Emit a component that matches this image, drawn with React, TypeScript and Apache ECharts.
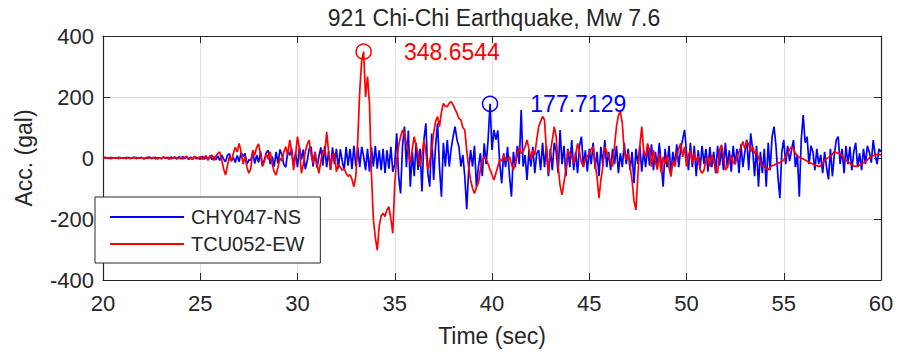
import React, { useEffect, useRef } from "react";
import * as echarts from "echarts";

// ---- data -----------------------------------------------------------------
const TITLE = "921 Chi-Chi Earthquake, Mw 7.6";
const X_NAME = "Time (sec)";
const Y_NAME = "Acc. (gal)";
const SERIES_NAMES = ["CHY047-NS", "TCU052-EW"];
const START_TIME = 20; // sec
const TIME_STEP = 0.1; // sec
const X_MIN = 20, X_MAX = 60, X_STEP = 5;
const Y_MIN = -400, Y_MAX = 400, Y_STEP = 200;

// CHY047-NS (blue), samples every 0.1 s from 20 s to 60 s
const CHY047_NS = [
  0, 2, -1, 1, -2, 0, 1, -1, 2, 0, // 20
  -1, 1, -2, 2, 0, -1, 3, -2, 1, 0, // 21
  2, -3, 1, -1, 3, -2, 0, 2, -3, 1, // 22
  -2, 3, -1, 2, -4, 3, -1, 1, -3, 4, // 23
  -3, 5, -2, 4, -5, 3, -4, 6, -3, 2, // 24
  -5, 6, -4, 3, -7, 8, -5, 4, -6, 7, // 25
  -8, 10, -4, -12, 9, 14, -10, 2, -15, 8, // 26
  -12, 18, 5, 15, -20, -6, -8, 20, -18, 10, // 27
  -15, 22, -25, -5, 18, 25, -20, 5, -28, 20, // 28
  -18, 28, 10, -22, -30, 25, 8, 30, -25, 18, // 29
  -30, 35, -5, 28, -37, -10, 30, 37, -28, 20, // 30
  -32, 5, 35, -25, 40, -30, 22, -38, 35, -20, // 31
  30, -35, 28, -10, -40, 37, -25, 30, -37, 40, // 32
  -28, 35, -30, 37, 5, -40, 30, -45, 35, -28, // 33
  40, -35, 25, -40, 30, -50, 25, -35, 37, -45, // 34
  -20, 81, -60, -116, 40, 103, -30, 90, -94, 20, // 35
  -60, 50, -39, 30, -110, 60, 114, -50, -94, 80, // 36
  -72, 40, 114, -30, -127, 50, -28, 59, -28, 30, // 37
  70, 103, 60, 37, -28, 10, -60, -168, -40, 26, // 38
  -28, 40, -94, -30, 15, -60, 48, -20, 60, 177.7129, // 39
  26, 92, 60, 90, -20, -83, 15, -30, 37, -60, // 40
  -127, 20, -30, 40, -20, 157, -28, 10, -72, 26, // 41
  -28, 37, -50, 15, 26, -40, 50, -30, 40, -60, // 42
  30, -40, 50, 20, -50, 92, -20, 40, -60, 30, // 43
  -30, 59, -40, 20, -50, 40, 70, -30, 25, -45, // 44
  30, -20, 50, -35, 20, -60, 37, -25, 59, -30, // 45
  20, -40, 30, -20, 40, -50, 15, -30, 50, -20, // 46
  30, -40, 20, -83, 30, -20, 40, -45, 25, -30, // 47
  37, -25, 45, -40, 20, -30, 50, -20, -94, 30, // 48
  -30, 40, -50, 20, -25, 45, -30, 30, 60, 92, // 49
  20, -40, 50, -30, 40, -60, 25, -35, 40, -20, // 50
  30, -45, 37, -30, 20, -50, 40, -25, 30, -40, // 51
  50, -30, 25, -45, 40, -20, 30, -50, 45, -30, // 52
  20, 60, -40, 81, 30, -60, 40, -94, 20, -50, // 53
  30, -94, 50, -40, 70, 103, 40, -60, -132, 20, // 54
  59, -20, 40, -10, 26, 59, -30, 10, -127, 60, // 55
  141, 50, 70, -20, 40, 20, -40, 30, -20, 10, // 56
  -50, 20, -30, -70, 30, -60, 10, 59, 70, -20, // 57
  30, -50, 40, -20, 37, -40, 20, 50, -30, 15, // 58
  -40, 30, -20, 40, 20, -15, 59, 10, -20, 30, // 59
  20, // 60
];

// TCU052-EW (red), samples every 0.1 s from 20 s to 60 s
const TCU052_EW = [
  0, 1, -1, 0, 2, -1, 0, 1, -2, 1, // 20
  0, -1, 2, 0, -2, 1, 0, 2, -1, 0, // 21
  1, -2, 0, 3, -1, 0, 2, -3, 1, 0, // 22
  -2, 3, 0, -1, 2, -3, 1, 4, -2, 0, // 23
  3, -4, 2, 6, -3, 1, -5, 4, 2, -3, // 24
  5, -4, 3, 8, -6, 4, 10, -8, 6, 15, // 25
  20, -5, -35, -56, -25, 5, -10, 15, 35, 20, // 26
  48, 20, -20, 5, -30, -50, -35, 26, 10, 35, // 27
  46, 10, -28, -10, 15, -5, 20, -20, -45, -56, // 28
  -30, 0, -10, 20, 37, 10, 59, 20, -39, 10, // 29
  70, 30, -50, -20, 20, 45, 59, 10, -17, 20, // 30
  -20, -50, -10, 26, 10, 86, 20, -39, 10, 15, // 31
  -45, -20, -30, -40, -35, -50, -60, -55, -70, -94, // 32
  -60, 60, 220, 320, 348.6544, 200, 267, 180, -50, -200, // 33
  -260, -302, -225, -190, -181, -192, -170, -160, -200, -247, // 34
  -83, -6, 40, 70, 92, 80, 48, 20, -17, 30, // 35
  70, 40, 15, -28, 10, 59, 20, -39, -10, 26, // 36
  81, 120, 136, 103, 150, 179, 170, 168, 180, 185, // 37
  174, 160, 146, 130, 125, 100, 92, 26, -30, -72, // 38
  -100, -116, -95, -83, -39, -10, 4, -5, -20, -39, // 39
  -55, -72, -50, -28, -5, -10, 10, -5, -10, 5, // 40
  -20, -39, -15, 10, 37, 15, 20, 37, 59, 30, // 41
  -5, 26, 10, 60, 103, 120, 136, 125, 20, -50, // 42
  20, 59, 103, 70, -28, -90, -121, -80, -40, 26, // 43
  15, 5, -17, 10, 48, 20, -15, -28, 0, 4, // 44
  15, 30, 37, -20, -61, -132, -70, -28, 37, 20, // 45
  4, -15, -28, 40, 103, 140, 152, 114, 20, -5, // 46
  15, -30, -72, -140, -170, -60, 40, 103, 20, 4, // 47
  48, 25, -28, 26, -10, -39, 15, -50, 4, -20, // 48
  10, -30, -61, -10, -28, 10, 30, 48, 4, 37, // 49
  -28, 10, 26, -17, 15, -10, 5, -39, -50, -40, // 50
  -6, 4, -28, 10, -10, -39, -50, 26, 43, 10, // 51
  -39, -30, -10, 10, -15, -20, 5, 20, 35, 54, // 52
  30, 54, 45, 20, 37, 15, 25, 0, -15, -28, // 53
  -28, -35, -39, -30, -25, -23, -20, -17, -15, -10, // 54
  -7, 5, 15, 28, 37, 30, 15, 8, 2, 0, // 55
  -3, -7, -10, -15, -17, -20, -23, -25, -28, -25, // 56
  -18, -7, -2, 2, 4, 12, 21, 18, 15, 15, // 57
  8, -2, -7, -12, -17, -22, -26, -28, -26, -23, // 58
  -20, -15, -12, -6, 0, 4, 8, 10, 12, 10, // 59
  10, // 60
];

// ---- styles ---------------------------------------------------------------
const FONT = "'Liberation Sans', Arial, Helvetica, sans-serif";
const TXT = "#262626";
const AXIS = "#262626";
const GRID = "#e2e2e2";
const BLUE = "#0000ff";
const RED = "#ff0000";

function toPairs(values: number[]) {
  return values.map((v, i) => [+(START_TIME + i * TIME_STEP).toFixed(2), v]);
}

function peakOf(values: number[]) {
  let idx = 0;
  values.forEach((v, i) => {
    if (v > values[idx]) idx = i;
  });
  return { t: +(START_TIME + idx * TIME_STEP).toFixed(2), v: values[idx] };
}

function makeSeries(name: string, values: number[], color: string) {
  const pk = peakOf(values);
  return {
    name,
    type: "line",
    data: toPairs(values),
    symbol: "none",
    showSymbol: false,
    lineStyle: { color, width: 1.7 },
    itemStyle: { color },
    emphasis: { disabled: true },
    markPoint: {
      symbol: "circle",
      symbolSize: 15,
      silent: true,
      itemStyle: { color: "rgba(0,0,0,0)", borderColor: color, borderWidth: 1.5 },
      label: {
        show: true,
        position: "right",
        distance: 32,
        color,
        fontSize: 23,
        fontFamily: FONT,
        formatter: () => pk.v.toFixed(4),
      },
      data: [{ coord: [pk.t, pk.v], value: pk.v }],
    },
  };
}

export default function App() {
  const ref = useRef<HTMLDivElement>(null);

  useEffect(() => {
    if (!ref.current) return;
    const chart = echarts.init(ref.current, undefined, { renderer: "svg" });

    const axisCommon = {
      axisLine: { show: true, onZero: false, lineStyle: { color: AXIS, width: 1.2 } },
      axisTick: { show: true, inside: true, length: 7, lineStyle: { color: AXIS, width: 1 } },
    };

    chart.setOption({
      animation: false,
      backgroundColor: "#ffffff",
      textStyle: { fontFamily: FONT, color: TXT },
      title: {
        text: TITLE,
        left: 489,
        top: 1,
        textAlign: "center",
        textStyle: { fontSize: 23, fontWeight: "normal", color: TXT, fontFamily: FONT },
      },
      grid: { left: 103, right: 31, top: 36, bottom: 75, containLabel: false },
      legend: {
        orient: "vertical",
        left: 95,
        top: 197,
        backgroundColor: "#ffffff",
        borderColor: AXIS,
        borderWidth: 1,
        borderRadius: 0,
        padding: [10, 16, 9, 15],
        itemWidth: 74,
        itemHeight: 2,
        itemGap: 7,
        textStyle: { fontSize: 20, lineHeight: 20, color: TXT, fontFamily: FONT, padding: [0, 0, 0, 2] },
        data: SERIES_NAMES.map((name) => ({ name, icon: "rect" })),
        z: 10,
      },
      xAxis: [
        {
          type: "value",
          min: X_MIN,
          max: X_MAX,
          interval: X_STEP,
          position: "bottom",
          name: X_NAME,
          nameLocation: "middle",
          nameGap: 44,
          nameTextStyle: { fontSize: 23, color: TXT, fontFamily: FONT },
          ...axisCommon,
          axisLabel: { fontSize: 22, color: TXT, margin: 12, fontFamily: FONT },
          splitLine: { show: true, lineStyle: { color: GRID, width: 1 } },
        },
        {
          type: "value",
          min: X_MIN,
          max: X_MAX,
          interval: X_STEP,
          position: "top",
          ...axisCommon,
          axisLabel: { show: false },
          splitLine: { show: false },
        },
      ],
      yAxis: [
        {
          type: "value",
          min: Y_MIN,
          max: Y_MAX,
          interval: Y_STEP,
          position: "left",
          name: Y_NAME,
          nameLocation: "middle",
          nameRotate: 90,
          nameGap: 68,
          nameTextStyle: { fontSize: 23, color: TXT, fontFamily: FONT },
          ...axisCommon,
          axisLabel: { fontSize: 22, color: TXT, margin: 9, fontFamily: FONT },
          splitLine: { show: true, lineStyle: { color: GRID, width: 1 } },
        },
        {
          type: "value",
          min: Y_MIN,
          max: Y_MAX,
          interval: Y_STEP,
          position: "right",
          ...axisCommon,
          axisLabel: { show: false },
          splitLine: { show: false },
        },
      ],
      series: [
        makeSeries(SERIES_NAMES[0], CHY047_NS, BLUE),
        makeSeries(SERIES_NAMES[1], TCU052_EW, RED),
      ],
    });

    return () => chart.dispose();
  }, []);

  return (
    <div
      ref={ref}
      style={{ position: "fixed", left: 0, top: 0, width: 912, height: 355, background: "#fff" }}
    />
  );
}
